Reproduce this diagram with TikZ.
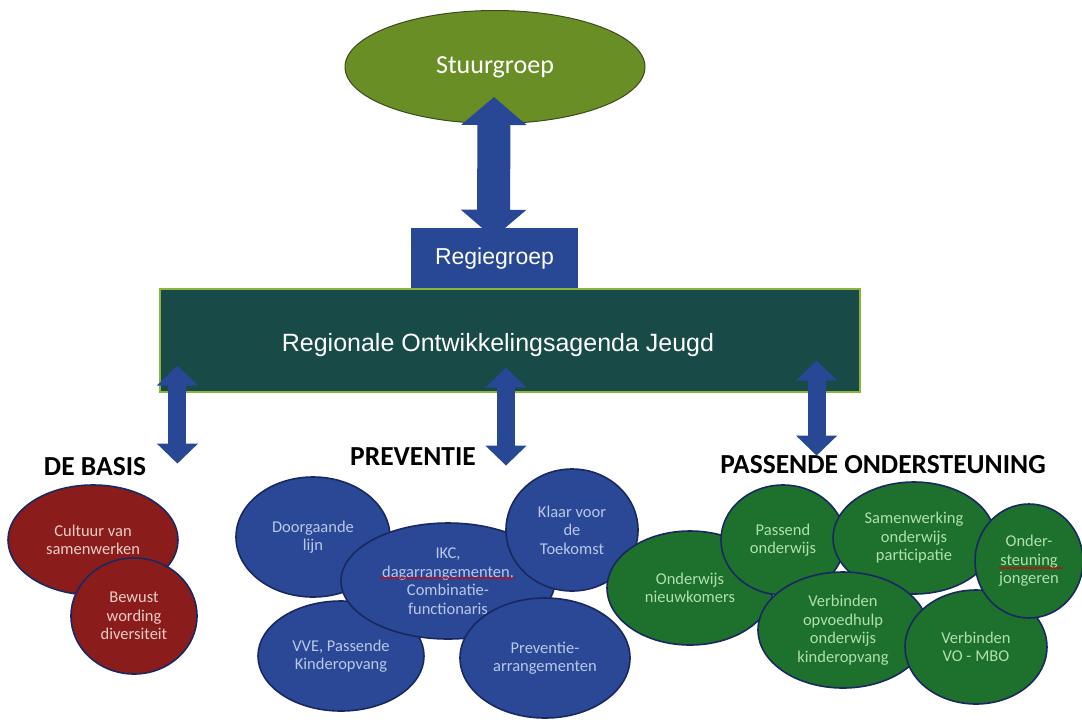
\documentclass[tikz,border=0pt]{standalone}
\usepackage{fontspec}
\setmainfont{Carlito}
\newfontfamily\arialfont{Liberation Sans}
\usetikzlibrary{shapes.geometric,arrows.meta,calc,decorations.pathmorphing}

\definecolor{stuurgreen}{RGB}{106,142,38}
\definecolor{stuurline}{RGB}{60,75,30}
\definecolor{arrowblue}{RGB}{40,72,150}
\definecolor{rojteal}{RGB}{24,74,72}
\definecolor{rojline}{RGB}{140,180,60}
\definecolor{navyline}{RGB}{25,40,95}
\definecolor{basisred}{RGB}{139,28,28}
\definecolor{basistext}{RGB}{235,205,200}
\definecolor{prevblue}{RGB}{42,72,150}
\definecolor{prevtext}{RGB}{185,200,232}
\definecolor{passgreen}{RGB}{30,112,45}
\definecolor{passtext}{RGB}{175,225,175}

\begin{document}
\begin{tikzpicture}[x=1pt,y=-1pt,
  groep/.style={ellipse,draw=navyline,line width=1.6pt,inner sep=0pt,align=center,font=\fontsize{16.5}{18.5}\selectfont},
  basis/.style={groep,fill=basisred,text=basistext},
  prev/.style={groep,fill=prevblue,text=prevtext},
  pass/.style={groep,fill=passgreen,text=passtext},
  kop/.style={font=\fontsize{27.5}{30}\selectfont\bfseries},
  topdubbel/.style={draw=arrowblue,line width=33pt,{Triangle[length=28pt,width=64pt]}-{Triangle[length=28pt,width=64pt]}},
  dubbel/.style={draw=arrowblue,line width=18pt,{Triangle[length=20pt,width=40pt]}-{Triangle[length=20pt,width=40pt]}},
  spelling/.style={draw=red!85!black,line width=0.7pt,decorate,decoration={snake,amplitude=0.8pt,segment length=3pt}}]
\useasboundingbox (0,0) rectangle (1082,721);

\node[ellipse,draw=stuurline,line width=1pt,fill=stuurgreen,minimum width=300pt,minimum height=113pt,inner sep=0pt,text=white,font=\fontsize{26}{30}\selectfont] (stuur) at (495,67) {Stuurgroep};
\node[fill=arrowblue,minimum width=167pt,minimum height=61pt,inner sep=0pt,text=white,font=\arialfont\fontsize{23}{26}\selectfont] (regie) at (494.5,258.5) {Regiegroep};
\node[fill=rojteal,draw=rojline,line width=1.2pt,minimum width=700pt,minimum height=103pt] (roj) at (510,340.5) {};
\node[text=white,font=\arialfont\fontsize{25}{28}\selectfont] (rojtekst) at (498,345) {Regionale Ontwikkelingsagenda Jeugd};

\draw[topdubbel] ($(stuur.south)+(-1,-27)$) -- ($(regie.north)+(-1,10)$);
\draw[dubbel] ($(roj.south west)+(18,-27)$) -- ($(roj.south west)+(18,71)$);
\draw[dubbel] ($(roj.south)+(-4,-25)$) -- ($(roj.south)+(-4,73)$);
\draw[dubbel] ($(roj.south east)+(-44,-32)$) -- ($(roj.south east)+(-44,63)$);

\node[kop] (basiskop) at (95,467) {DE BASIS};
\node[kop] (prevkop) at (413,457) {PREVENTIE};
\node[kop] (passkop) at (883,465) {PASSENDE ONDERSTEUNING};

\node[basis,minimum width=170pt,minimum height=110pt] (cultuur) at (93,540) {Cultuur van\\samenwerken};
\node[basis,minimum width=126pt,minimum height=116pt] (bewust) at (134,616) {Bewust\\wording\\diversiteit};

\node[prev,minimum width=154pt,minimum height=120pt] (doorgaand) at (313,537) {Doorgaande\\lijn};
\node[prev,minimum width=166pt,minimum height=110pt] (vve) at (341,656) {VVE, Passende\\Kinderopvang};
\node[prev,minimum width=214pt,minimum height=116pt] (ikc) at (448,581) {IKC,\\dagarrangementen,\\Combinatie-\\functionaris};
\node[prev,minimum width=132pt,minimum height=122pt] (klaar) at (572,530) {Klaar voor\\de\\Toekomst};
\node[prev,minimum width=170pt,minimum height=120pt] (prevarr) at (545,658) {Preventie-\\arrangementen};

\node[pass,minimum width=166pt,minimum height=114pt] (nieuwkomers) at (690,588) {Onderwijs\\nieuwkomers};
\node[pass,minimum width=124pt,minimum height=110pt] (passend) at (783,540) {Passend\\onderwijs};
\node[pass,minimum width=162pt,minimum height=112pt] (samenwerking) at (914,538) {Samenwerking\\onderwijs\\participatie};
\node[pass,minimum width=170pt,minimum height=116pt] (opvoedhulp) at (843,630) {Verbinden\\opvoedhulp\\onderwijs\\kinderopvang};
\node[pass,minimum width=142pt,minimum height=114pt] (vombo) at (976,647) {Verbinden\\VO - MBO};
\node[pass,minimum width=108pt,minimum height=114pt] (ondersteuning) at (1029,561) {Onder-\\steuning\\jongeren};

\draw[spelling] ($(ikc.center)+(-68,-3)$) -- ($(ikc.center)+(66,-3)$);
\draw[spelling] ($(ondersteuning.center)+(-30,7)$) -- ($(ondersteuning.center)+(34,7)$);
\end{tikzpicture}
\end{document}
